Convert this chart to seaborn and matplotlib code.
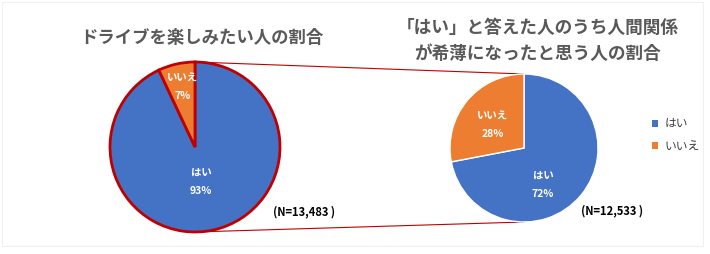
import matplotlib
matplotlib.use("Agg")
import matplotlib.pyplot as plt
import seaborn as sns
import numpy as np

# ---- data ----
labels = ["はい", "いいえ"]
left_values = [93, 7]
right_values = [72, 28]
left_title = "ドライブを楽しみたい人の割合"
right_title = "「はい」と答えた人のうち人間関係\nが希薄になったと思う人の割合"
left_n = "(N=13,483 )"
right_n = "(N=12,533 )"

sns.set_theme(style="white")
plt.rcParams['font.family'] = ['Noto Sans CJK JP', 'DejaVu Sans']

palette = sns.color_palette(["#4472C4", "#ED7D31"])
RED = "#C00000"
GRAY = "#595959"

W, H = 710, 254
fig = plt.figure(figsize=(W / 100, H / 100), dpi=100)
ax = fig.add_axes([0, 0, 1, 1])
ax.set_xlim(0, W)
ax.set_ylim(0, H)
ax.set_aspect("equal")
ax.axis("off")

def Y(y):
    return H - y

# faint frame
ax.add_patch(plt.Rectangle((2, Y(246)), 701, 244, fill=False, ec="#f0f0f0", lw=0.8))

# left pie
lc, lr = (195, Y(147)), 85
lw_, _ = ax.pie(left_values, colors=palette, startangle=90, counterclock=False,
                center=lc, radius=lr, frame=True,
                wedgeprops=dict(edgecolor=RED, linewidth=2.0))
# right pie
rc, rr = (524, Y(148)), 74
rw_, _ = ax.pie(right_values, colors=palette, startangle=90, counterclock=False,
                center=rc, radius=rr, frame=True,
                wedgeprops=dict(edgecolor="white", linewidth=1.0))
ax.set_xlim(0, W)
ax.set_ylim(0, H)
ax.axis("off")

# connecting lines
ax.plot([lc[0], rc[0]], [lc[1] + lr, rc[1] + rr], color=RED, lw=0.8, zorder=0)
ax.plot([lc[0], rc[0]], [lc[1] - lr, rc[1] - rr], color=RED, lw=0.8, zorder=0)

# in-pie labels
lab_kw = dict(color="white", fontsize=7.5, fontweight="bold", ha="center", va="center")
def pie_label(x, y, name, v):
    ax.text(x, Y(y), name, **lab_kw)
    ax.text(x, Y(y + 18), f"{v}%", **lab_kw)

pie_label(183, 78, labels[1], left_values[1])
pie_label(201, 173, labels[0], left_values[0])
pie_label(493, 116, labels[1], right_values[1])
pie_label(543, 176, labels[0], right_values[0])

# titles
ax.text(202, Y(38), left_title, fontsize=12.5, fontweight="bold", color=GRAY,
        ha="center", va="center")
ax.text(538, Y(41), right_title, fontsize=12.7, fontweight="bold", color=GRAY,
        ha="center", va="center", linespacing=1.55)

# N labels
ax.text(304, Y(212), left_n, fontsize=8, fontweight="bold", color="black",
        ha="center", va="center")
ax.text(612, Y(211), right_n, fontsize=8, fontweight="bold", color="black",
        ha="center", va="center")

# legend
leg = ax.legend(rw_, labels, loc="center left", bbox_to_anchor=(646 / W, 1 - 135 / H),
                frameon=False, fontsize=8.5, handlelength=0.55, handleheight=0.55,
                handletextpad=0.5, labelspacing=0.8, borderpad=0)
for t in leg.get_texts():
    t.set_color("#404040")
for h in leg.legend_handles:
    h.set_edgecolor("none")

fig.savefig("out.png", dpi=100)
